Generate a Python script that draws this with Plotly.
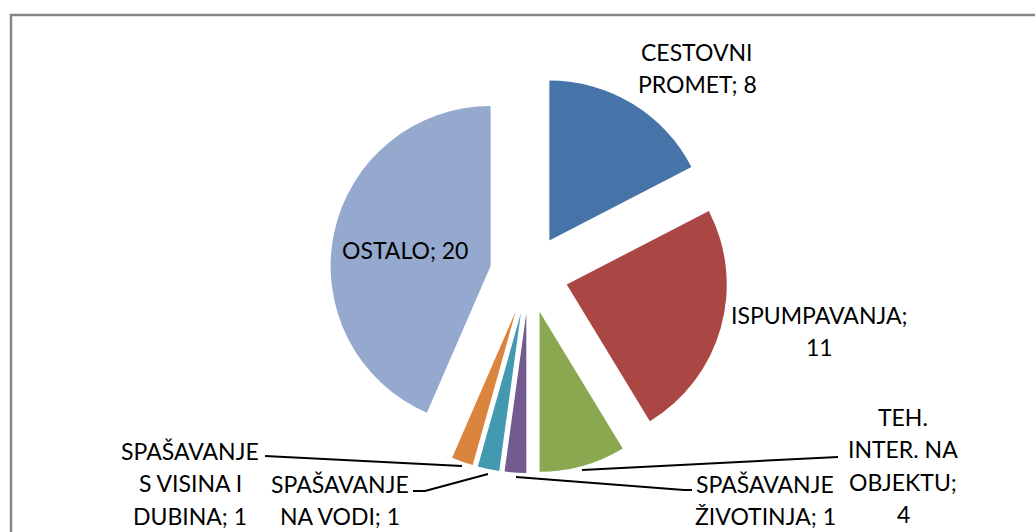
import plotly.graph_objects as go

W, H = 1035, 532

labels = ["CESTOVNI PROMET", "ISPUMPAVANJA", "TEH. INTER. NA OBJEKTU",
          "SPAŠAVANJE ŽIVOTINJA", "SPAŠAVANJE NA VODI",
          "SPAŠAVANJE S VISINA I DUBINA", "OSTALO"]
values = [8, 11, 4, 1, 1, 1, 20]
colors = ["#4674A8", "#AA4744", "#8AA84F", "#735A90", "#4399B0", "#DA843E", "#95A9CF"]

# label text lines as shown in the chart
label_lines = [
    ["CESTOVNI", "PROMET; 8"],
    ["ISPUMPAVANJA;", "11"],
    ["TEH.", "INTER. NA", "OBJEKTU;", "4"],
    ["SPAŠAVANJE", "ŽIVOTINJA; 1"],
    ["SPAŠAVANJE", "NA VODI; 1"],
    ["SPAŠAVANJE", "S VISINA I", "DUBINA; 1"],
    ["OSTALO; 20"],
]
# centre x and first-line y (pixels) of each label block
label_pos = [(697, 52), (819, 315), (903, 417), (765, 484), (340, 484), (190, 451), (405, 250)]
line_step = 32.3

# leader lines (pixel polylines)
leaders = [
    None,
    None,
    [(582, 470), (838, 457)],
    [(516, 477), (684, 490), (692, 490)],
    [(488, 474), (425, 491), (413, 491)],
    [(462, 466), (265, 456)],
    None,
]

pull = 0.245
cx, cy, r = 529, 274, 160

def px(x):
    return x / W

def py(y):
    return 1 - y / H

half = r * (1 + pull)
fig = go.Figure(go.Pie(
    labels=labels, values=values, sort=False, direction="clockwise", rotation=0,
    marker=dict(colors=colors, line=dict(width=0)),
    pull=[pull] * len(values), textinfo="none", hoverinfo="label+value",
    domain=dict(x=[px(cx - half), px(cx + half)], y=[py(cy + half), py(cy - half)]),
    showlegend=False,
))

annotations = []
for lines, (x, y0) in zip(label_lines, label_pos):
    for i, t in enumerate(lines):
        annotations.append(dict(x=px(x), y=py(y0 + i * line_step), xref="paper", yref="paper",
                                text=t, showarrow=False, xanchor="center", yanchor="middle",
                                align="center",
                                font=dict(family="Lato", size=23, color="#000000")))

shapes = [dict(type="rect", xref="paper", yref="paper", x0=px(11), y0=py(600), x1=px(1100), y1=py(15),
               line=dict(color="#868686", width=2.5), fillcolor="rgba(0,0,0,0)", layer="below")]
for pts in leaders:
    if not pts:
        continue
    path = "M " + " L ".join(f"{px(x)},{py(y)}" for x, y in pts)
    shapes.append(dict(type="path", xref="paper", yref="paper", path=path,
                       line=dict(color="#000000", width=2)))

fig.update_layout(width=W, height=H, margin=dict(l=0, r=0, t=0, b=0),
                  paper_bgcolor="white", plot_bgcolor="white",
                  annotations=annotations, shapes=shapes)

fig.write_html("out.html", config={"displayModeBar": False},
               post_script="document.body.style.margin='0';document.body.style.overflow='hidden';")
